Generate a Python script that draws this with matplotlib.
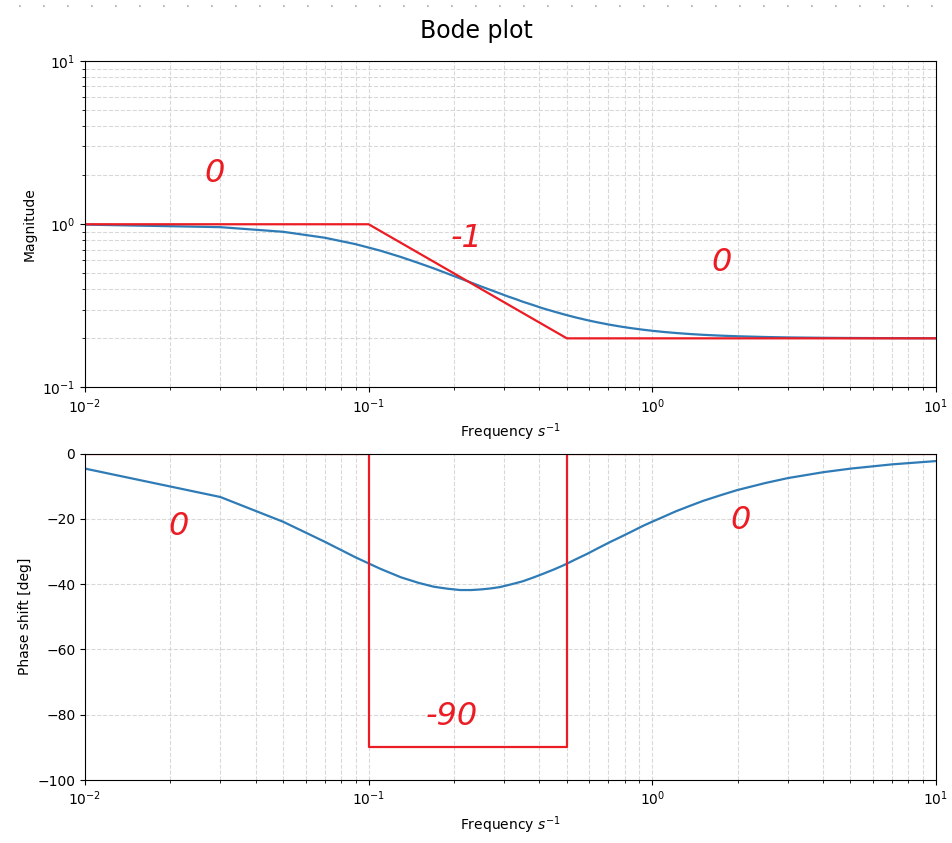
import matplotlib
matplotlib.use("Agg")
import matplotlib.pyplot as plt
from matplotlib.lines import Line2D

# frequency samples of the response curve
freq = [0.01, 0.03, 0.05, 0.07, 0.09, 0.11, 0.13, 0.15, 0.17, 0.19, 0.21,
        0.23, 0.25, 0.27, 0.29, 0.31, 0.33, 0.35, 0.38, 0.41, 0.45, 0.49,
        0.54, 0.59, 0.64, 0.71, 0.78, 0.85, 0.93, 1.01, 1.1, 1.21, 1.35,
        1.51, 1.75, 1.99, 2.51, 3.01, 4.01, 5.01, 7.01, 9.99]
magnitude = [0.995, 0.960, 0.899, 0.827, 0.755, 0.689, 0.630, 0.579, 0.536,
             0.498, 0.466, 0.439, 0.415, 0.395, 0.377, 0.361, 0.348, 0.335,
             0.320, 0.306, 0.292, 0.280, 0.268, 0.2585, 0.2508, 0.2422,
             0.2356, 0.2305, 0.2258, 0.2221, 0.2188, 0.2157, 0.2127, 0.2102,
             0.2077, 0.2060, 0.2038, 0.2026, 0.2015, 0.2010, 0.2005, 0.2002]
phase = [-4.6, -13.3, -20.9, -27.0, -31.8, -35.3, -37.9, -39.6, -40.8, -41.4,
         -41.8, -41.8, -41.6, -41.3, -40.9, -40.3, -39.7, -39.1, -38.0, -36.9,
         -35.5, -34.1, -32.3, -30.7, -29.1, -27.1, -25.4, -23.8, -22.1, -20.7,
         -19.3, -17.7, -16.1, -14.5, -12.7, -11.2, -9.0, -7.5, -5.7, -4.6,
         -3.3, -2.3]

# straight-line asymptotes
asym_mag_f = [0.01, 0.1, 0.5, 10]
asym_mag = [1, 1, 0.2, 0.2]
asym_ph_f = [0.01, 0.1, 0.1, 0.5, 0.5, 10]
asym_ph = [0, 0, -90, -90, 0, 0]

# hand written slope notes: (freq, value, text)
mag_notes = [(0.0287, 2.05, "0"), (0.222, 0.82, "-1"), (1.76, 0.58, "0")]
ph_notes = [(0.0213, -22.3, "0"), (2.05, -20.5, "0"), (0.197, -80.5, "-90")]

red = "#ec1c24"
blue = "#2f7bb6"

fig, (ax1, ax2) = plt.subplots(2, 1, figsize=(9.53, 8.43), dpi=100)
fig.subplots_adjust(left=0.0892, right=0.982, top=0.9276, bottom=0.0747,
                    hspace=0.2025)
fig.suptitle("Bode plot", fontsize=17, y=0.978)

# faint dotted row at the very top
fig.add_artist(Line2D([0.02, 1.0], [0.993, 0.993], transform=fig.transFigure,
                      ls=(0, (1, 13.4)), color="#aaaaaa", lw=1.2))

# magnitude
ax1.loglog(freq, magnitude, color=blue, lw=1.6)
ax1.loglog(asym_mag_f, asym_mag, color=red, lw=1.6)
ax1.set_xlim(0.01, 10)
ax1.set_ylim(0.1, 10)
ax1.set_xlabel("Frequency $s^{-1}$")
ax1.set_ylabel("Magnitude")
ax1.grid(True, which="both", ls="--", color="#cccccc", lw=0.8, alpha=0.75)
for f, v, t in mag_notes:
    ax1.text(f, v, t, color=red, fontsize=23, style="italic",
             ha="center", va="center")

# phase
ax2.semilogx(freq, phase, color=blue, lw=1.6)
ax2.semilogx(asym_ph_f, asym_ph, color=red, lw=1.6)
ax2.set_xlim(0.01, 10)
ax2.set_ylim(-100, 0)
ax2.set_xlabel("Frequency $s^{-1}$")
ax2.set_ylabel("Phase shift [deg]")
ax2.grid(True, which="both", ls="--", color="#cccccc", lw=0.8, alpha=0.75)
for f, v, t in ph_notes:
    ax2.text(f, v, t, color=red, fontsize=23, style="italic",
             ha="center", va="center")

fig.savefig("out.png", dpi=100)
